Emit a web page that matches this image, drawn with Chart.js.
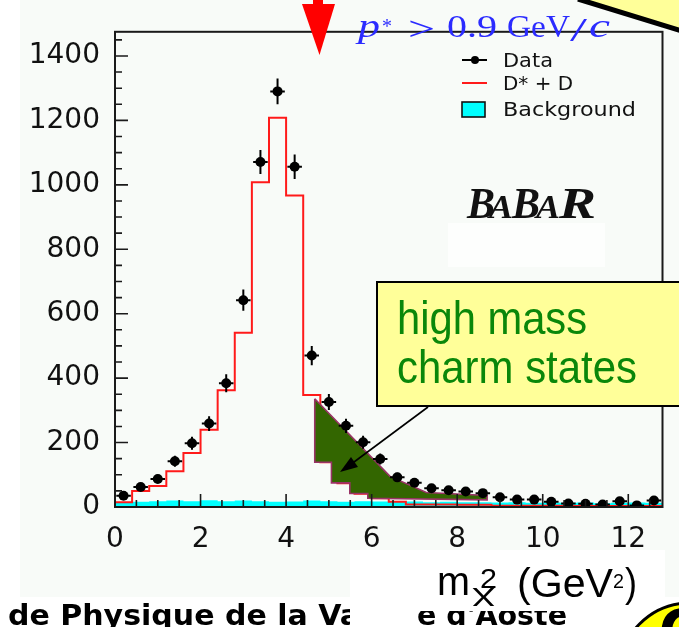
<!DOCTYPE html>
<html>
<head>
<meta charset="utf-8">
<script src="https://cdn.jsdelivr.net/npm/chart.js@4.4.1/dist/chart.umd.min.js"></script>
<style>
  html, body { margin: 0; padding: 0; background: #fff; }
  canvas { display: block; }
</style>
</head>
<body>
<canvas id="c" width="679" height="627"></canvas>
<script>
// m_X^2 bins in GeV^2 (0.4 GeV^2 wide)
const binCenters = [0.2, 0.6, 1.0, 1.4, 1.8, 2.2, 2.6, 3.0, 3.4, 3.8, 4.2, 4.6, 5.0, 5.4, 5.8, 6.2,
                    6.6, 7.0, 7.4, 7.8, 8.2, 8.6, 9.0, 9.4, 9.8, 10.2, 10.6, 11.0, 11.4, 11.8, 12.2, 12.6];
const binHalfWidth = 0.2;

// Data: events per bin and their uncertainties
const dataCounts = [35, 62, 87, 142, 198, 259, 384, 642, 1071, 1290, 1056, 470, 326, 252, 201, 149,
                    92, 75, 58, 52, 48, 43, 30, 23, 23, 16, 11, 10, 8, 18, 5, 20];
const dataErrors = [8, 11, 13, 17, 20, 23, 28, 33, 37, 40, 38, 30, 25, 22, 20, 17,
                    14, 12, 11, 10, 10, 9, 8, 7, 7, 6, 5, 5, 4, 6, 3, 6];

// D* + D expectation
const signalCounts = [15, 50, 65, 111, 168, 240, 362, 541, 1008, 1208, 967, 348, 139, 74, 41, 27,
                      16, 8, 8, 8, 7, 7, 4, 4, 4, 4, 3, 3, 3, 3, 3, 3];

// Background
const backgroundCounts = [14, 16, 18, 20, 18, 21, 18, 20, 18, 16, 17, 20, 18, 16, 18, 17,
                          16, 17, 15, 16, 15, 15, 14, 15, 13, 14, 13, 14, 12, 13, 14, 13];

// Outline of the "high mass charm states" excess (m_X^2, events)
const highMassX = [4.67, 6.43, 7.28, 8.70, 8.70, 5.91, 5.91, 5.49, 5.49, 5.06, 5.06, 4.67, 4.67];
const highMassY = [336, 95, 45, 36, 22, 27, 42, 42, 75, 75, 139, 139, 336];

// Axis tick labels
const xTicks = [0, 2, 4, 6, 8, 10, 12];
const yTicks = [0, 200, 400, 600, 800, 1000, 1200, 1400];

const X_MAX = 12.8, Y_MAX = 1475;
const errBarHalf = 0.17;

// bin left edges with the bin content, closed by the last right edge
function histPoints(counts) {
  const pts = binCenters.map((c, i) => ({ x: c - binHalfWidth, y: counts[i] }));
  pts.push({ x: binCenters[binCenters.length - 1] + binHalfWidth, y: counts[counts.length - 1] });
  return pts;
}

const errV = [], errH = [];
binCenters.forEach((c, i) => {
  const v = dataCounts[i], e = dataErrors[i];
  errV.push({ x: c, y: v - e }, { x: c, y: v + e }, { x: c, y: null });
  errH.push({ x: c - errBarHalf, y: v }, { x: c + errBarHalf, y: v }, { x: c, y: null });
});

const DATA_COLOR = '#000000';
const SIGNAL_COLOR = '#ff1a1a';
const BKG_COLOR = '#00ffff';

function fitText(ctx, str, x, y, font, width, color) {
  ctx.save();
  ctx.font = font;
  ctx.fillStyle = color;
  ctx.textAlign = 'left';
  ctx.textBaseline = 'alphabetic';
  const w = ctx.measureText(str).width;
  ctx.translate(x, y);
  ctx.scale(width / w, 1);
  ctx.fillText(str, 0, 0);
  ctx.restore();
}

const framePlugin = {
  id: 'frame',
  beforeDraw(chart) {
    const ctx = chart.ctx;
    ctx.save();
    ctx.fillStyle = '#ffffff';
    ctx.fillRect(0, 0, chart.width, chart.height);
    ctx.fillStyle = '#f8fbf8';
    ctx.fillRect(20, 0, chart.width - 20, 597);
    ctx.restore();
  },
  afterDatasetsDraw(chart) {
    const ctx = chart.ctx;
    const { left, right, top, bottom } = chart.chartArea;
    const xs = chart.scales.x, ys = chart.scales.y;
    ctx.save();
    ctx.strokeStyle = '#1a1a1a';
    ctx.lineWidth = 1.6;
    ctx.beginPath();
    // minor and major ticks on the y axis
    for (let v = 0; v <= 1450; v += 50) {
      const py = ys.getPixelForValue(v);
      const len = yTicks.includes(v) ? 13 : 7;
      ctx.moveTo(left, py); ctx.lineTo(left + len, py);
    }
    // minor and major ticks on the x axis
    for (let k = 0; k <= 25; k++) {
      const v = k * 0.5;
      const px = xs.getPixelForValue(v);
      const len = xTicks.includes(v) ? 13 : 7;
      ctx.moveTo(px, bottom); ctx.lineTo(px, bottom - len);
    }
    ctx.stroke();
    ctx.lineWidth = 2;
    ctx.strokeRect(left, top, right - left, bottom - top);
    ctx.restore();
  }
};

const decorPlugin = {
  id: 'decor',
  afterDraw(chart) {
    const ctx = chart.ctx;
    const ds = chart.data.datasets;
    ctx.save();

    // red arrow above the frame
    ctx.fillStyle = '#ff0000';
    ctx.fillRect(313, 0, 10, 5);
    ctx.beginPath();
    ctx.moveTo(302, 4); ctx.lineTo(335, 4); ctx.lineTo(319.5, 55); ctx.closePath();
    ctx.fill();

    // momentum cut label
    const blue = '#2b2bff';
    fitText(ctx, 'p', 358, 37, 'italic 34px "Liberation Serif"', 22, blue);
    fitText(ctx, '*', 382, 33, '22px "Liberation Serif"', 10, blue);
    fitText(ctx, '>', 408, 40, '34px "Liberation Serif"', 27, blue);
    fitText(ctx, '0.9', 447, 37, '32px "Liberation Serif"', 50, blue);
    fitText(ctx, 'GeV', 507, 37, '32px "Liberation Serif"', 63, blue);
    fitText(ctx, '/', 570, 41, '34px "Liberation Serif"', 17, blue);
    fitText(ctx, 'c', 589, 37, 'italic 34px "Liberation Serif"', 21, blue);

    // legend
    ctx.lineWidth = 2;
    ctx.strokeStyle = ds[2].pointBackgroundColor;
    ctx.beginPath(); ctx.moveTo(462, 60); ctx.lineTo(487, 60); ctx.stroke();
    ctx.fillStyle = ds[2].pointBackgroundColor;
    ctx.beginPath(); ctx.arc(475, 60, 4, 0, Math.PI * 2); ctx.fill();
    ctx.strokeStyle = ds[4].borderColor;
    ctx.beginPath(); ctx.moveTo(462, 83); ctx.lineTo(487, 83); ctx.stroke();
    ctx.fillStyle = ds[5].backgroundColor;
    ctx.fillRect(462, 102, 23, 15);
    ctx.strokeStyle = '#111';
    ctx.lineWidth = 1.6;
    ctx.strokeRect(462, 102, 23, 15);
    fitText(ctx, 'Data', 503, 67, '20px "DejaVu Sans"', 50, '#111');
    fitText(ctx, 'D* + D', 503, 90, '20px "DejaVu Sans"', 70, '#111');
    fitText(ctx, 'Background', 503, 116, '20px "DejaVu Sans"', 133, '#111');

    // experiment logo
    ctx.fillStyle = '#fdfefd';
    ctx.fillRect(448, 223, 157, 44);
    const logoFontBig = 'bold italic 44px "Liberation Serif"';
    const logoFontSmall = 'bold italic 33px "Liberation Serif"';
    fitText(ctx, 'B', 467, 218, logoFontBig, 28, '#111');
    fitText(ctx, 'A', 489, 218, logoFontSmall, 24, '#111');
    fitText(ctx, 'B', 512, 218, logoFontBig, 28, '#111');
    fitText(ctx, 'A', 536, 218, logoFontSmall, 24, '#111');
    fitText(ctx, 'R', 559, 218, logoFontBig, 37, '#111');

    // pointer from the callout to the excess
    ctx.strokeStyle = '#000';
    ctx.fillStyle = '#000';
    ctx.lineWidth = 1.6;
    ctx.beginPath(); ctx.moveTo(428, 407); ctx.lineTo(350, 465); ctx.stroke();
    ctx.beginPath();
    ctx.moveTo(340, 472); ctx.lineTo(351, 457); ctx.lineTo(358, 467); ctx.closePath();
    ctx.fill();

    // callout box
    ctx.fillStyle = '#ffff99';
    ctx.fillRect(377, 282, 310, 124);
    ctx.strokeStyle = '#000';
    ctx.lineWidth = 2;
    ctx.strokeRect(377, 282, 310, 124);
    const green = '#0a870a';
    fitText(ctx, 'high mass', 397, 334, '46px "Liberation Sans"', 190, green);
    fitText(ctx, 'charm states', 397, 383, '46px "Liberation Sans"', 240, green);

    // corner of a second callout
    ctx.fillStyle = '#ffff99';
    ctx.beginPath();
    ctx.moveTo(578, 0); ctx.lineTo(679, 0); ctx.lineTo(679, 31); ctx.closePath();
    ctx.fill();
    ctx.strokeStyle = '#000';
    ctx.lineWidth = 5;
    ctx.beginPath(); ctx.moveTo(578, -1); ctx.lineTo(682, 31); ctx.stroke();

    // footer text
    ctx.save();
    ctx.beginPath(); ctx.rect(0, 0, 350, 627); ctx.clip();
    fitText(ctx, 'de Physique de la Va', 8, 625, 'bold 28px "DejaVu Sans"', 352, '#000');
    ctx.restore();
    fitText(ctx, "e d'Aoste", 417, 625, 'bold 28px "DejaVu Sans"', 150, '#000');

    // white panel behind the axis title
    ctx.fillStyle = '#ffffff';
    ctx.fillRect(350, 550, 315, 61);
    ctx.fillRect(350, 611, 67, 16);

    // x axis title
    const tf = '"Liberation Sans"';
    fitText(ctx, 'm', 437, 595, '40px ' + tf, 33, '#000');
    ctx.save();
    ctx.beginPath(); ctx.rect(460, 560, 50, 46); ctx.clip();
    fitText(ctx, 'X', 471, 607, '27px ' + tf, 25, '#000');
    ctx.restore();
    fitText(ctx, '2', 480, 588, '27px ' + tf, 17, '#000');
    fitText(ctx, '(GeV', 517, 597, '40px ' + tf, 96, '#000');
    fitText(ctx, '2', 613, 588, '21px ' + tf, 11, '#000');
    fitText(ctx, ')', 625, 597, '40px ' + tf, 12, '#000');

    // logo in the lower right corner
    ctx.fillStyle = '#ffff00';
    ctx.strokeStyle = '#000';
    ctx.lineWidth = 3;
    ctx.beginPath(); ctx.arc(690, 674, 71, 0, Math.PI * 2); ctx.fill(); ctx.stroke();
    fitText(ctx, 'C', 659, 652, 'bold 58px "DejaVu Sans"', 40, '#000');

    ctx.restore();
  }
};

const tickFont = { family: 'DejaVu Sans', size: 28 };

new Chart(document.getElementById('c'), {
  type: 'line',
  data: {
    datasets: [
      { label: 'err-y', data: errV, borderColor: DATA_COLOR, borderWidth: 2, pointRadius: 0, spanGaps: false, fill: false, order: 0 },
      { label: 'err-x', data: errH, borderColor: DATA_COLOR, borderWidth: 2, pointRadius: 0, spanGaps: false, fill: false, order: 0 },
      { label: 'Data', data: binCenters.map((c, i) => ({ x: c, y: dataCounts[i] })), showLine: false,
        pointRadius: 5, pointBackgroundColor: DATA_COLOR, pointBorderWidth: 0, order: 0 },
      { label: 'high mass charm states', data: highMassX.map((x, i) => ({ x, y: highMassY[i] })),
        borderColor: '#993366', borderWidth: 1.6, backgroundColor: '#336600', fill: 'shape', pointRadius: 0, order: 1 },
      { label: 'D* + D', data: histPoints(signalCounts), stepped: 'before', borderColor: SIGNAL_COLOR,
        borderWidth: 2, pointRadius: 0, fill: false, order: 2 },
      { label: 'Background', data: histPoints(backgroundCounts), stepped: 'before', borderWidth: 0,
        borderColor: BKG_COLOR, backgroundColor: BKG_COLOR, pointRadius: 0, fill: 'origin', order: 3 }
    ]
  },
  options: {
    responsive: false,
    animation: false,
    devicePixelRatio: 1,
    events: [],
    layout: { padding: { left: 0, right: 16.5, top: 8, bottom: 0 } },
    plugins: { legend: { display: false }, tooltip: { enabled: false } },
    scales: {
      x: {
        type: 'linear', min: 0, max: X_MAX,
        afterBuildTicks: s => { s.ticks = xTicks.map(v => ({ value: v })); },
        afterFit: s => { s.height = 120; },
        grid: { display: false, drawTicks: false },
        border: { display: false },
        ticks: { font: tickFont, color: '#111', padding: 16, maxRotation: 0, autoSkip: false,
                 callback: v => String(v) }
      },
      y: {
        type: 'linear', min: 0, max: Y_MAX,
        afterBuildTicks: s => { s.ticks = yTicks.map(v => ({ value: v })); },
        afterFit: s => { s.width = 115; },
        grid: { display: false, drawTicks: false },
        border: { display: false },
        ticks: { font: tickFont, color: '#111', padding: 15, autoSkip: false,
                 callback: v => String(v) }
      }
    }
  },
  plugins: [framePlugin, decorPlugin]
});
</script>
</body>
</html>
